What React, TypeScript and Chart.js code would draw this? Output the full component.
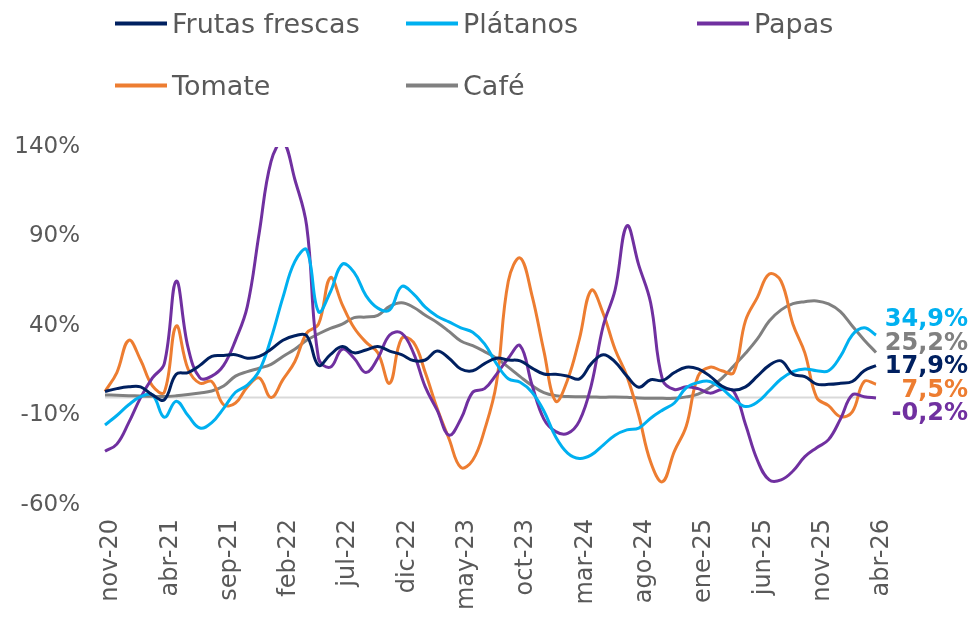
import React, { useEffect, useRef } from "react";
import { Chart, registerables } from "chart.js";
Chart.register(...registerables);

const months = [
  "nov-20", "dic-20",
  "ene-21", "feb-21", "mar-21", "abr-21", "may-21", "jun-21", "jul-21", "ago-21", "sep-21", "oct-21", "nov-21", "dic-21",
  "ene-22", "feb-22", "mar-22", "abr-22", "may-22", "jun-22", "jul-22", "ago-22", "sep-22", "oct-22", "nov-22", "dic-22",
  "ene-23", "feb-23", "mar-23", "abr-23", "may-23", "jun-23", "jul-23", "ago-23", "sep-23", "oct-23", "nov-23", "dic-23",
  "ene-24", "feb-24", "mar-24", "abr-24", "may-24", "jun-24", "jul-24", "ago-24", "sep-24", "oct-24", "nov-24", "dic-24",
  "ene-25", "feb-25", "mar-25", "abr-25", "may-25", "jun-25", "jul-25", "ago-25", "sep-25", "oct-25", "nov-25", "dic-25",
  "ene-26", "feb-26", "mar-26", "abr-26",
];

const frutasFrescas = [
  3.4, 5, 6, 6, 1.5, -1.2, 13, 14, 18, 23,
  23.5, 24, 22, 23, 27, 32, 34.6, 34.6, 18, 24,
  28.5, 25, 26.6, 28.5, 26, 24, 20.7, 21, 26, 22,
  16, 15, 19, 22, 21, 20.5, 16.5, 13.2, 13, 12,
  10.5, 19, 24, 20, 12, 5.8, 10, 9.5, 14, 17,
  16, 12, 6.5, 4.3, 6, 12, 18, 20.5, 13, 11.7,
  7.5, 7.4, 8, 9, 15, 17.9,
];

const platanos = [
  -15.3, -10, -4, 0.5, 1.5, -11, -2, -10, -17, -14,
  -6, 3, 7, 15, 33, 56, 76, 82.5, 48, 59,
  74.5, 70, 57, 50, 49, 62, 58, 50.5, 45.5, 42.3,
  39, 36.5, 30, 19, 10.5, 8.6, 3, -7.5, -22, -31,
  -34, -32, -26.5, -21, -18, -17, -11.5, -7, -3, 5.5,
  8.4, 9, 5, -0.7, -5, -2.5, 3.8, 10.4, 14.5, 16,
  15, 15, 23, 35, 39, 34.9,
];

const papas = [
  -30, -26, -14, 0, 11, 19, 65, 28, 11, 12,
  18, 32, 51, 92, 132, 143, 122, 96, 22, 17,
  27, 22, 14, 22, 35, 36, 25, 6, -7, -21,
  -12, 3, 5, 13, 22, 29, 7, -12, -19, -20,
  -13, 7, 40, 60, 96, 74, 53, 10, 4.5, 6,
  5, 2.5, 4.5, 3.5, -15, -35, -46, -46, -41, -33,
  -28, -23.5, -12, 1.5, 0.5, -0.2,
];

const tomate = [
  3.4, 14, 32, 21, 6.5, 3, 40, 16, 8, 9,
  -4, -3, 6, 11, 0, 10, 20, 36, 41, 67,
  52, 39, 31, 25, 8, 33, 31, 14, -6, -23,
  -39, -35, -18, 8, 65, 78, 57, 26, -2, 10,
  33, 60, 47, 27, 12, -10, -36, -47, -30, -16,
  12, 17, 15, 14, 43, 56, 69, 65, 41, 25,
  0, -4.5, -10.6, -8, 9, 7.5,
];

const cafe = [
  1.5, 1.3, 1.1, 0.9, 0.7, 0.6, 1, 1.7, 2.6, 3.7,
  6.5, 12, 14.5, 16.4, 18.6, 23, 27, 32, 35.6, 38.7,
  41, 44.7, 45, 46, 51, 53, 50.5, 46, 42, 37,
  31.6, 29, 25.7, 22, 17, 11.7, 6.7, 2.8, 1.1, 0.6,
  0.5, 0.4, 0.2, 0.4, 0.2, -0.2, -0.4, -0.4, -0.4, 0.4,
  1.9, 5.6, 10.8, 17.7, 24.8, 32.8, 42.8, 49, 52.5, 53.6,
  54, 52.3, 48, 40, 32.2, 25.2,
];

const seriesNames = ["Frutas frescas", "Plátanos", "Papas", "Tomate", "Café"];
const seriesColors = ["#002060", "#00B0F0", "#7030A0", "#ED7D31", "#808080"];
const seriesData = [frutasFrescas, platanos, papas, tomate, cafe];
const yTickValues = [-60, -10, 40, 90, 140];
const xLabelEvery = 5;

const FONT = "'DejaVu Sans', sans-serif";
const TEXT_COLOR = "#595959";

const legendSlots = [
  { left: 115, top: 23 },
  { left: 406, top: 23 },
  { left: 697, top: 23 },
  { left: 115, top: 85 },
  { left: 406, top: 85 },
];

export default function App() {
  const canvasRef = useRef<HTMLCanvasElement | null>(null);

  useEffect(() => {
    const canvas = canvasRef.current;
    if (!canvas) return;

    const zeroLine = {
      id: "zeroLine",
      beforeDatasetsDraw(chart: any) {
        const { ctx, chartArea, scales } = chart;
        const py = scales.y.getPixelForValue(0);
        ctx.save();
        ctx.strokeStyle = "#D9D9D9";
        ctx.lineWidth = 2;
        ctx.beginPath();
        ctx.moveTo(chartArea.left, py);
        ctx.lineTo(chartArea.right, py);
        ctx.stroke();
        ctx.restore();
      },
    };

    const endLabels = {
      id: "endLabels",
      afterDatasetsDraw(chart: any) {
        const { ctx } = chart;
        const items = chart.data.datasets.map((ds: any, i: number) => {
          const meta = chart.getDatasetMeta(i);
          const pt = meta.data[meta.data.length - 1];
          const v = ds.data[ds.data.length - 1] as number;
          return {
            y: pt.y,
            text: v.toFixed(1).replace(".", ",") + "%",
            color: ds.borderColor,
          };
        });
        items.sort((a: any, b: any) => a.y - b.y);
        const mean = items.reduce((s: number, it: any) => s + it.y, 0) / items.length;
        const spacing = 23.5;
        ctx.save();
        ctx.font = `bold 24px ${FONT}`;
        ctx.textAlign = "right";
        ctx.textBaseline = "middle";
        items.forEach((it: any, k: number) => {
          const ly = mean + (k - (items.length - 1) / 2) * spacing;
          ctx.fillStyle = it.color;
          ctx.fillText(it.text, chart.width - 3, ly);
        });
        ctx.restore();
      },
    };

    const chart = new Chart(canvas, {
      type: "line",
      data: {
        labels: months,
        datasets: seriesData.map((d, i) => ({
          label: seriesNames[i],
          data: d,
          borderColor: seriesColors[i],
          backgroundColor: seriesColors[i],
          borderWidth: 3,
          pointRadius: 0,
          tension: 0.4,
          fill: false,
        })),
      },
      options: {
        animation: false,
        responsive: false,
        maintainAspectRatio: false,
        layout: { padding: { top: 147, right: 95, left: 0, bottom: 0 } },
        plugins: {
          legend: { display: false },
          tooltip: { enabled: false },
        },
        scales: {
          x: {
            grid: { display: false, drawTicks: false },
            border: { display: false },
            ticks: {
              autoSkip: false,
              maxRotation: 90,
              minRotation: 90,
              padding: 14,
              labelOffset: 6,
              color: TEXT_COLOR,
              font: { family: FONT, size: 24 },
              callback: (_v: any, i: number) => (i % xLabelEvery === 0 ? months[i] : ""),
            },
            afterFit(scale: any) {
              scale.height = 123;
            },
          },
          y: {
            min: -60,
            max: 140,
            grid: { display: false, drawTicks: false },
            border: { display: false },
            afterBuildTicks(scale: any) {
              scale.ticks = yTickValues.map((v) => ({ value: v }));
            },
            ticks: {
              padding: 25,
              color: TEXT_COLOR,
              font: { family: FONT, size: 23 },
              callback: (v: any) => `${v}%`,
            },
            afterFit(scale: any) {
              scale.width = 105;
            },
          },
        },
      },
      plugins: [zeroLine, endLabels],
    });

    return () => chart.destroy();
  }, []);

  return (
    <div
      style={{
        position: "fixed",
        left: 0,
        top: 0,
        width: 971,
        height: 628,
        background: "#ffffff",
        overflow: "hidden",
      }}
    >
      <canvas
        ref={canvasRef}
        width={971}
        height={628}
        style={{ position: "absolute", left: 0, top: 0, width: 971, height: 628 }}
      />
      {seriesNames.map((name, i) => (
        <div
          key={name}
          style={{
            position: "absolute",
            left: legendSlots[i].left,
            top: legendSlots[i].top,
            transform: "translateY(-50%)",
            display: "flex",
            alignItems: "center",
            fontFamily: FONT,
            fontSize: 27,
            color: TEXT_COLOR,
            whiteSpace: "nowrap",
            lineHeight: 1,
          }}
        >
          <span
            style={{
              display: "inline-block",
              width: 52,
              height: 4,
              background: seriesColors[i],
              marginRight: 5,
            }}
          />
          <span>{name}</span>
        </div>
      ))}
    </div>
  );
}
